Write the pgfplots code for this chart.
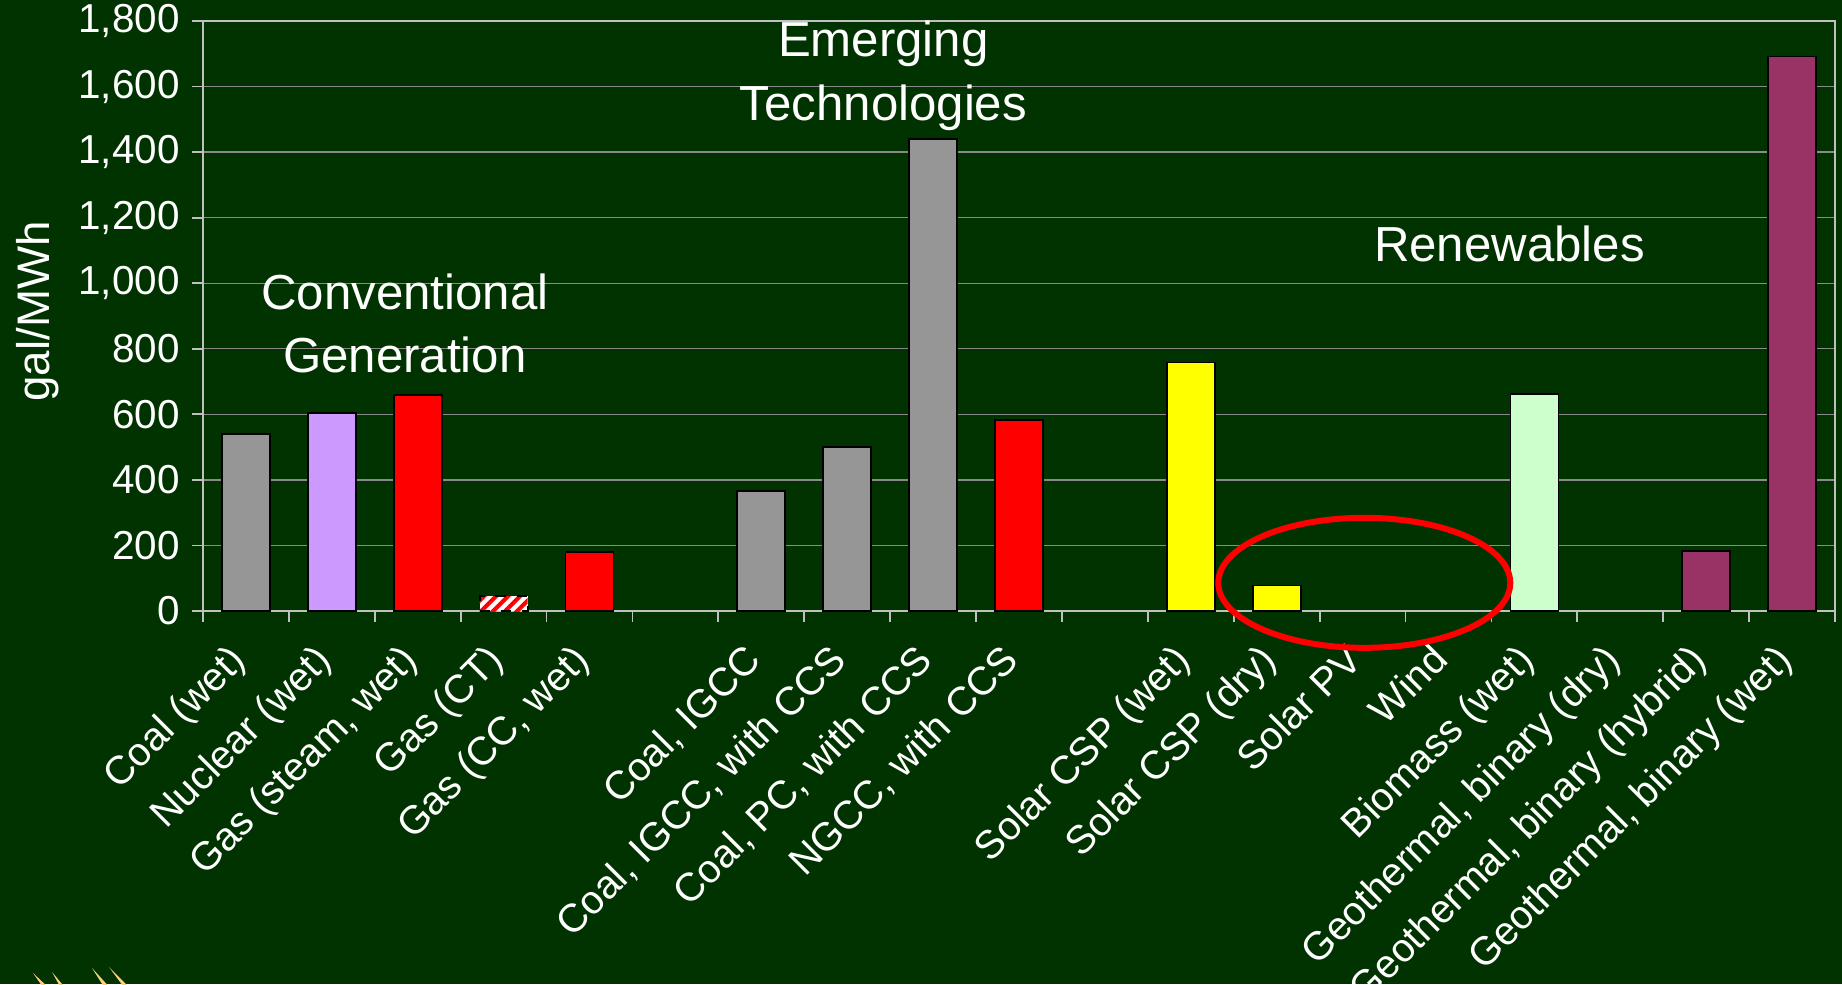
\documentclass[border=0pt]{standalone}
\usepackage{pgfplots}
\pgfplotsset{compat=1.18}
\usepackage{fontspec}
\setmainfont{Liberation Sans}
\usetikzlibrary{patterns.meta}
\definecolor{bg}{HTML}{003300}
\definecolor{cgray}{HTML}{969696}
\definecolor{clav}{HTML}{CC99FF}
\definecolor{cred}{HTML}{FF0000}
\definecolor{cyel}{HTML}{FFFF00}
\definecolor{cgreen}{HTML}{CCFFCC}
\definecolor{cmaroon}{HTML}{993366}
\definecolor{gridc}{HTML}{8A8A8A}
\definecolor{axc}{HTML}{C0C0C0}
\definecolor{deco}{HTML}{FFD27A}
\begin{document}
\begin{tikzpicture}
\fill[bg, use as bounding box] (-20.3mm,-37.3mm) rectangle (163.9mm,61.1mm);
\begin{axis}[
  at={(0,0)}, anchor=south west,
  scale only axis, width=163.2mm, height=59mm,
  xmin=-0.5, xmax=18.5, ymin=0, ymax=1800,
  ytick={0,200,...,1800},
  xtick={-0.5,0.5,...,18.5},
  x tick label as interval,
  xticklabels={Coal (wet), Nuclear (wet), {Gas (steam, wet)}, Gas (CT), {Gas (CC, wet)}, {},
    {Coal, IGCC}, {Coal, IGCC, with CCS}, {Coal, PC, with CCS}, {NGCC, with CCS}, {},
    Solar CSP (wet), Solar CSP (dry), Solar PV, Wind, Biomass (wet),
    {Geothermal, binary (dry)}, {Geothermal, binary (hybrid)}, {Geothermal, binary (wet)}},
  tick pos=left, tick align=outside,
  major tick length=1.1mm,
  tick style={color=axc, line width=0.5pt},
  axis line style={color=axc, line width=0.6pt},
  ymajorgrids, grid style={color=gridc, line width=0.4pt},
  /pgf/number format/.cd, 1000 sep={,}, assume math mode=true, /pgfplots/.cd,
  yticklabel style={text=white, font=\fontsize{11.5}{13}\selectfont},
  xticklabel style={text=white, font=\fontsize{11.3}{13}\selectfont, xshift=-1.9mm, yshift=-1.4mm, rotate=45, anchor=north east, inner sep=1pt},
  ylabel={gal/MWh},
  every axis y label/.style={at={(axis description cs:-0.101,0.508)}, rotate=90, anchor=center, text=white, font=\fontsize{13}{15}\selectfont},
  clip=false,
]
\addplot[ybar, bar width=4.8mm, fill=cgray, draw=black, line width=0.5pt] coordinates {(0,540) (6,365) (7,500) (8,1440)};
\addplot[ybar, bar width=4.8mm, fill=clav, draw=black, line width=0.5pt] coordinates {(1,605)};
\addplot[ybar, bar width=4.8mm, fill=cred, draw=black, line width=0.5pt] coordinates {(2,660) (4,180) (9,582)};
\addplot[ybar, bar width=4.8mm, fill=white, draw=black, dashed, line width=0.5pt, postaction={pattern={Lines[angle=45,distance=0.85mm,line width=0.4mm]}, pattern color=cred}] coordinates {(3,45)};
\addplot[ybar, bar width=4.8mm, fill=cyel, draw=black, line width=0.5pt] coordinates {(11,758) (12,78)};
\addplot[ybar, bar width=4.8mm, fill=cgreen, draw=black, line width=0.5pt] coordinates {(15,662)};
\addplot[ybar, bar width=4.8mm, fill=cmaroon, draw=black, line width=0.5pt] coordinates {(17,184) (18,1692)};
\node[align=center, text=white, font=\fontsize{14}{18}\selectfont] at (axis cs:1.85,878) {Conventional\\Generation};
\node[align=center, text=white, font=\fontsize{14}{18}\selectfont] at (axis cs:7.42,1633) {Emerging\\Technologies};
\node[align=center, text=white, font=\fontsize{14}{18}\selectfont] at (axis cs:14.71,1119) {Renewables};
\draw[cred, line width=0.6mm] (axis cs:13.02,86) ellipse [x radius=14.6mm, y radius=6.5mm];
\end{axis}
\begin{scope}[shift={(-20.3mm,61.1mm)}, x=0.1mm, y=-0.1mm]
\fill[deco] (33,973) -- (45,990) -- (51,990) -- cycle;
\fill[deco] (52,972) -- (62,990) -- (67,990) -- cycle;
\fill[deco] (92,968) -- (106,990) -- (112,990) -- cycle;
\fill[deco] (109,967) -- (126,990) -- (132,990) -- cycle;
\end{scope}
\end{tikzpicture}
\end{document}
